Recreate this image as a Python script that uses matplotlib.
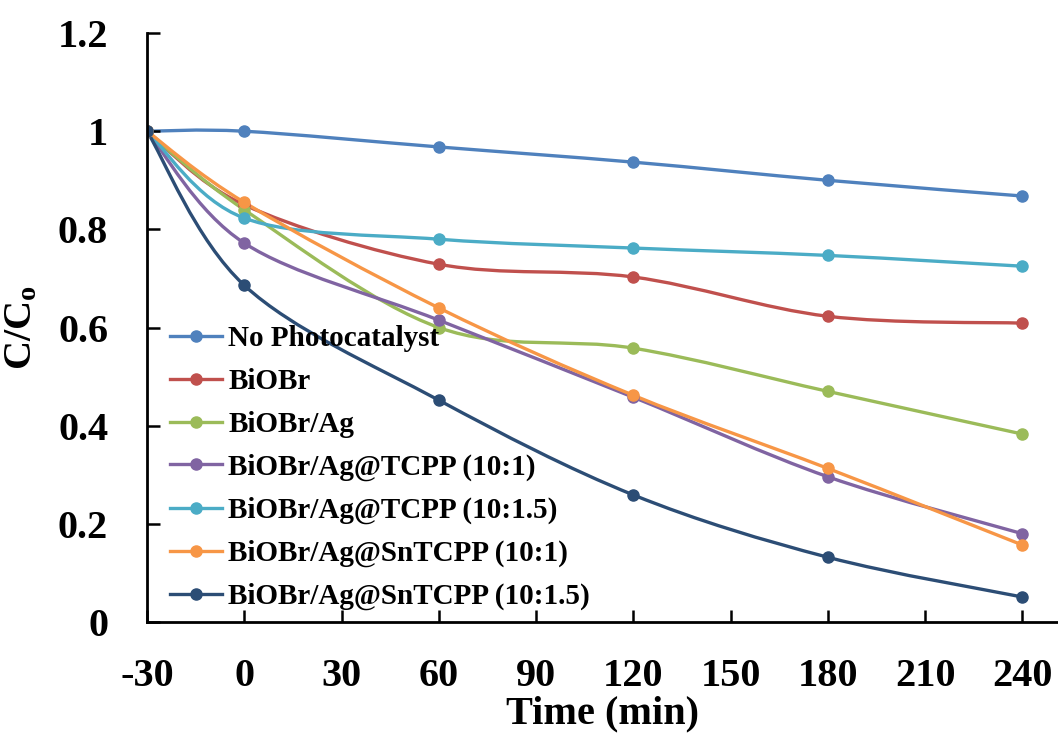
import matplotlib
matplotlib.use("Agg")
import matplotlib.pyplot as plt
from matplotlib.path import Path
from matplotlib.patches import PathPatch
from matplotlib.lines import Line2D

# time (min) and C/C0 for each sample
times = [-30, 0, 60, 120, 180, 240]
no_photo = [1.0, 1.0, 0.968, 0.937, 0.900, 0.868]
biobr = [1.0, 0.85, 0.729, 0.703, 0.623, 0.609]
biobr_ag = [1.0, 0.84, 0.600, 0.558, 0.470, 0.383]
tcpp_10_1 = [1.0, 0.772, 0.615, 0.458, 0.296, 0.180]
tcpp_10_15 = [1.0, 0.823, 0.780, 0.762, 0.747, 0.725]
sntcpp_10_1 = [1.0, 0.855, 0.640, 0.462, 0.313, 0.157]
sntcpp_10_15 = [1.0, 0.686, 0.452, 0.259, 0.132, 0.051]

labels = ["No Photocatalyst", "BiOBr", "BiOBr/Ag", "BiOBr/Ag@TCPP (10:1)",
          "BiOBr/Ag@TCPP (10:1.5)", "BiOBr/Ag@SnTCPP (10:1)", "BiOBr/Ag@SnTCPP (10:1.5)"]
series = [no_photo, biobr, biobr_ag, tcpp_10_1, tcpp_10_15, sntcpp_10_1, sntcpp_10_15]
colors = ["#4F81BD", "#C0504D", "#9BBB59", "#8064A2", "#4BACC6", "#F79646", "#2C4D75"]

plt.rcParams["font.family"] = ["Liberation Serif", "DejaVu Serif"]
plt.rcParams["font.weight"] = "bold"
plt.rcParams["axes.unicode_minus"] = False
plt.rcParams["mathtext.fontset"] = "custom"
plt.rcParams["mathtext.rm"] = "Liberation Serif:bold"
plt.rcParams["mathtext.bf"] = "Liberation Serif:bold"
plt.rcParams["mathtext.it"] = "Liberation Serif:bold"


def smooth_path(xs, ys):
    # excel-style smoothed line as cubic bezier segments
    pts = list(zip(xs, ys))
    verts = [pts[0]]
    codes = [Path.MOVETO]
    n = len(pts)
    for i in range(n - 1):
        p0 = pts[i - 1] if i > 0 else pts[i]
        p1 = pts[i]
        p2 = pts[i + 1]
        p3 = pts[i + 2] if i + 2 < n else pts[i + 1]
        c1 = (p1[0] + (p2[0] - p0[0]) / 6, p1[1] + (p2[1] - p0[1]) / 6)
        c2 = (p2[0] - (p3[0] - p1[0]) / 6, p2[1] - (p3[1] - p1[1]) / 6)
        verts += [c1, c2, p2]
        codes += [Path.CURVE4] * 3
    return Path(verts, codes)


fig = plt.figure(figsize=(10.58, 7.35), dpi=100)
ax = fig.add_axes([0.139, 0.1537, 0.861, 0.8013])

handles = []
for vals, lab, col in zip(series, labels, colors):
    patch = PathPatch(smooth_path(times, vals), facecolor="none", edgecolor=col,
                      lw=2.4, transform=ax.transData)
    ax.add_patch(patch)
    ax.plot(times, vals, "o", color=col, ms=8)
    handles.append(Line2D([], [], color=col, lw=2.4, marker="o", ms=8, label=lab))

ax.set_xlim(-30, 251)
ax.set_ylim(0, 1.2)
ax.set_xticks([-30, 0, 30, 60, 90, 120, 150, 180, 210, 240])
ax.set_yticks([0, 0.2, 0.4, 0.6, 0.8, 1.0, 1.2])
ax.yaxis.set_major_formatter(plt.FuncFormatter(lambda v, p: f"{v:g}"))

for side in ["top", "right"]:
    ax.spines[side].set_visible(False)
for side in ["left", "bottom"]:
    ax.spines[side].set_linewidth(2)
ax.tick_params(axis="both", direction="in", length=9, width=1.8, labelsize=29)
ax.tick_params(axis="y", pad=28)
ax.tick_params(axis="x", pad=26)

ax.set_xlabel("Time (min)", fontsize=29, fontweight="bold", labelpad=0)
ax.set_ylabel(r"C/C$_\mathrm{o}$", fontsize=29, fontweight="bold")
ax.yaxis.set_label_coords(-0.117, 0.5)

ax.legend(handles=handles, loc="lower left", bbox_to_anchor=(0.025, 0.02),
          frameon=False, fontsize=21, handlelength=1.8, handletextpad=0.2,
          labelspacing=0.54, borderpad=0, borderaxespad=0)

fig.savefig("out.png", dpi=100)
